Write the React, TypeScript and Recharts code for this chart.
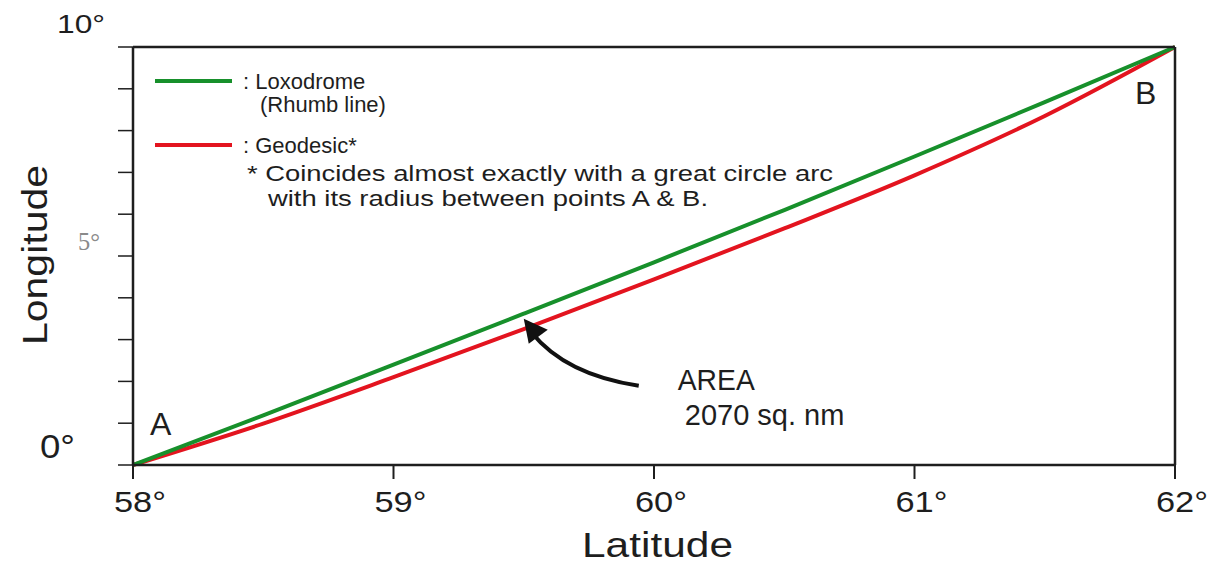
import { Line, LineChart, ReferenceDot, XAxis, YAxis } from "recharts";

// latitude (deg) sampled every half degree
const LATITUDES = [58, 58.5, 59, 59.5, 60, 60.5, 61, 61.5, 62];
// longitude
const RHUMB_LON = [0, 1.19, 2.4, 3.62, 4.85, 6.1, 7.38, 8.68, 10];
const GEODESIC_LON = [0, 0.99, 2.1, 3.25, 4.44, 5.66, 6.93, 8.35, 10];

const X_TICKS = [58, 59, 60, 61, 62];
const Y_TICKS = [0, 1, 2, 3, 4, 5, 6, 7, 8, 9, 10];

const GREEN = "#17902b";
const RED = "#e3141f";
const INK = "#1e1e1e";
const FONT = "'Liberation Sans', Arial, sans-serif";

const data = LATITUDES.map((lat, i) => ({
  lat,
  rhumb: RHUMB_LON[i],
  geodesic: GEODESIC_LON[i],
}));

function XTick({ x, y, payload }: any) {
  return (
    <text
      x={x + 7}
      y={y + 31}
      textAnchor="middle"
      fontSize={30}
      textLength={52}
      lengthAdjust="spacingAndGlyphs"
      fontFamily={FONT}
      fill={INK}
    >
      {`${payload.value}°`}
    </text>
  );
}

// only 0, 5 and 10 carry a label; the 5 is printed faint in the source
const Y_LABEL_STYLE: Record<number, any> = {
  10: { dx: -11, dy: -14, size: 26, len: 48, fill: INK, family: FONT },
  5: { dx: -16, dy: -6, size: 26, len: 22, fill: "#8a8a8a", family: "'Liberation Serif', serif" },
  0: { dx: -41, dy: -7, size: 33, len: 35, fill: INK, family: FONT },
};

function YTick({ x, y, payload }: any) {
  const s = Y_LABEL_STYLE[payload.value];
  if (!s) return null;
  return (
    <text
      x={x + s.dx}
      y={y + s.dy}
      textAnchor="end"
      fontSize={s.size}
      textLength={s.len}
      lengthAdjust="spacingAndGlyphs"
      fontFamily={s.family}
      fill={s.fill}
    >
      {`${payload.value}°`}
    </text>
  );
}

function Overlay() {
  const t = { fontFamily: FONT, fontSize: 22, fill: INK } as const;
  return (
    <svg width={1222} height={573} style={{ position: "absolute", left: 0, top: 0, pointerEvents: "none" }}>
      <line x1={155} x2={232} y1={81} y2={81} stroke={GREEN} strokeWidth={4} />
      <text x={243} y={89} {...t}>: Loxodrome</text>
      <text x={260} y={112} {...t}>(Rhumb line)</text>
      <line x1={155} x2={232} y1={145} y2={145} stroke={RED} strokeWidth={4} />
      <text x={243} y={153} {...t}>: Geodesic*</text>
      <text x={247} y={181} {...t} fontSize={22} textLength={586} lengthAdjust="spacingAndGlyphs">
        * Coincides almost exactly with a great circle arc
      </text>
      <text x={268} y={206} {...t} fontSize={22} textLength={440} lengthAdjust="spacingAndGlyphs">
        with its radius between points A &amp; B.
      </text>
      <text
        x={582}
        y={557}
        fontFamily={FONT}
        fontSize={35}
        textLength={151}
        lengthAdjust="spacingAndGlyphs"
        fill={INK}
      >
        Latitude
      </text>
      <text
        transform="translate(47 345) rotate(-90)"
        fontFamily={FONT}
        fontSize={35}
        textLength={180}
        lengthAdjust="spacingAndGlyphs"
        fill={INK}
      >
        Longitude
      </text>
    </svg>
  );
}

function AreaNote({ cx, cy }: any) {
  return (
    <g>
      <path
        d={`M ${cx + 115} ${cy + 67} Q ${cx + 42} ${cy + 56} ${cx + 8} ${cy + 14}`}
        fill="none"
        stroke="#111"
        strokeWidth={4}
      />
      <polygon points={`${cx},${cy} ${cx + 5},${cy + 25} ${cx + 24},${cy + 11}`} fill="#111" />
      <text x={cx + 154} y={cy + 71} fontFamily={FONT} fontSize={30} textLength={77} lengthAdjust="spacingAndGlyphs" fill={INK}>
        AREA
      </text>
      <text x={cx + 161} y={cy + 106} fontFamily={FONT} fontSize={29} fill={INK}>2070 sq. nm</text>
    </g>
  );
}

function PointLabel({ cx, cy, text, dx, dy }: any) {
  return (
    <text x={cx + dx} y={cy + dy} fontFamily={FONT} fontSize={32} fill={INK}>
      {text}
    </text>
  );
}

export default function App() {
  return (
    <div style={{ position: "absolute", left: 0, top: 0, width: 1222, height: 573, background: "#fff" }}>
      <LineChart width={1222} height={573} data={data} margin={{ top: 46, right: 46, bottom: 107, left: 132 }}>
        <XAxis
          dataKey="lat"
          type="number"
          domain={[58, 62]}
          ticks={X_TICKS}
          height={1}
          axisLine={{ stroke: INK, strokeWidth: 2.5 }}
          tickLine={{ stroke: INK, strokeWidth: 2 }}
          tickSize={14}
          tick={<XTick />}
        />
        <XAxis
          xAxisId="top"
          dataKey="lat"
          orientation="top"
          type="number"
          domain={[58, 62]}
          ticks={X_TICKS}
          height={1}
          axisLine={{ stroke: INK, strokeWidth: 2.5 }}
          tickLine={{ stroke: INK, strokeWidth: 2 }}
          tickSize={14}
          tick={false}
        />
        <YAxis
          yAxisId="left"
          type="number"
          domain={[0, 10]}
          ticks={Y_TICKS}
          width={1}
          axisLine={{ stroke: INK, strokeWidth: 2.5 }}
          tickLine={{ stroke: INK, strokeWidth: 1.5 }}
          tickSize={15}
          tick={<YTick />}
        />
        <YAxis
          yAxisId="right"
          orientation="right"
          type="number"
          domain={[0, 10]}
          ticks={Y_TICKS}
          width={1}
          axisLine={{ stroke: INK, strokeWidth: 2.5 }}
          tickLine={{ stroke: INK, strokeWidth: 1.5 }}
          tickSize={15}
          tick={false}
        />
        <Line
          yAxisId="left"
          dataKey="geodesic"
          type="monotone"
          stroke={RED}
          strokeWidth={4}
          dot={false}
          isAnimationActive={false}
        />
        <Line
          yAxisId="left"
          dataKey="rhumb"
          type="monotone"
          stroke={GREEN}
          strokeWidth={4}
          dot={false}
          isAnimationActive={false}
        />
        <ReferenceDot yAxisId="left" x={59.5} y={3.5} shape={<AreaNote />} />
        <ReferenceDot yAxisId="left" x={58} y={0} shape={<PointLabel text="A" dx={17} dy={-30} />} />
        <ReferenceDot yAxisId="left" x={62} y={10} shape={<PointLabel text="B" dx={-40} dy={57} />} />
      </LineChart>
      <Overlay />
    </div>
  );
}
